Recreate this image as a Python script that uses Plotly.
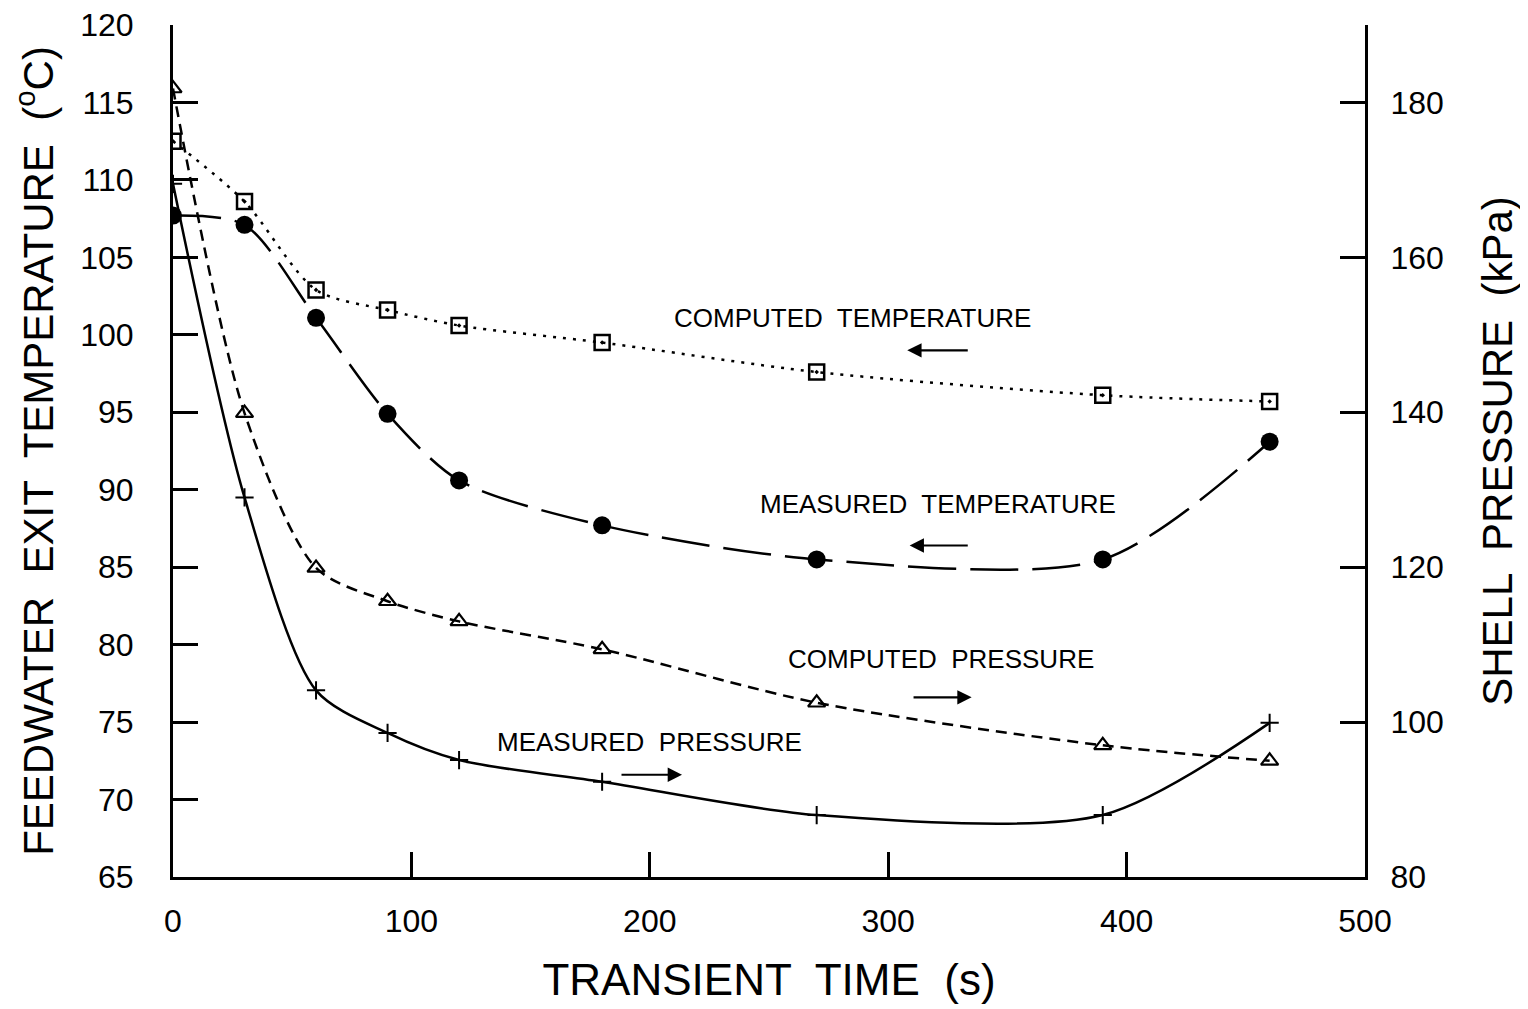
import plotly.graph_objects as go

# ---- data ----
time_s = [0, 30, 60, 90, 120, 180, 270, 390, 460]
computed_temp = [112.5, 108.6, 102.9, 101.6, 100.6, 99.5, 97.6, 96.1, 95.7]
measured_temp = [107.7, 107.1, 101.1, 94.9, 90.6, 87.7, 85.5, 85.5, 93.1]
computed_press = [181.8, 139.9, 119.9, 115.6, 113.0, 109.4, 102.5, 97.0, 95.0]
measured_press = [169.5, 129.0, 104.1, 98.6, 95.1, 92.3, 88.0, 88.0, 99.9]

x_ticks = [0, 100, 200, 300, 400, 500]
t_ticks = [65, 70, 75, 80, 85, 90, 95, 100, 105, 110, 115, 120]
p_ticks = [80, 100, 120, 140, 160, 180]

FONT = "Liberation Sans"
BLACK = "black"

fig = go.Figure()

fig.add_trace(go.Scatter(
    x=time_s, y=computed_temp, mode="lines+markers",
    line=dict(color=BLACK, width=2.5, dash="3px,7px", shape="spline", smoothing=0.8),
    marker=dict(symbol="square-open-dot", size=15, color=BLACK, line=dict(width=2.5, color=BLACK)),
    name="Computed temperature"))

fig.add_trace(go.Scatter(
    x=time_s, y=measured_temp, mode="lines+markers",
    line=dict(color=BLACK, width=2.5, dash="48px,14px", shape="spline", smoothing=0.8),
    marker=dict(symbol="circle", size=18, color=BLACK),
    name="Measured temperature"))

fig.add_trace(go.Scatter(
    x=time_s, y=computed_press, mode="lines+markers", yaxis="y2",
    line=dict(color=BLACK, width=2.5, dash="11px,7px", shape="spline", smoothing=0.8),
    marker=dict(symbol="triangle-up-open", size=15, color=BLACK, line=dict(width=2.2, color=BLACK)),
    name="Computed pressure"))

fig.add_trace(go.Scatter(
    x=time_s, y=measured_press, mode="lines+markers", yaxis="y2",
    line=dict(color=BLACK, width=2.5, shape="spline", smoothing=0.8),
    marker=dict(symbol="cross-thin-open", size=13, color=BLACK, line=dict(width=2, color=BLACK)),
    name="Measured pressure"))

# ---- text labels and arrows ----
labels = [
    ("COMPUTED  TEMPERATURE", 285, 101.1, 334, 308, 99.0),
    ("MEASURED  TEMPERATURE", 321, 89.1, 334, 309, 86.4),
    ("COMPUTED  PRESSURE", 322, 79.1, 310, 335, 76.6),
    ("MEASURED  PRESSURE", 200, 73.7, 187.5, 213.5, 71.6),
]
for txt, tx, ty, x0, x1, ya in labels:
    fig.add_annotation(x=tx, y=ty, xref="x", yref="y", text=txt, showarrow=False,
                       font=dict(family=FONT, size=26, color=BLACK))
    fig.add_annotation(x=x1, y=ya, ax=x0, ay=ya, xref="x", yref="y", axref="x", ayref="y",
                       text="", showarrow=True, arrowhead=2, arrowsize=1.3, arrowwidth=2.2,
                       arrowcolor=BLACK)

axis_common = dict(showline=True, linecolor=BLACK, linewidth=3, ticks="inside", ticklen=25,
                   tickwidth=2.5, tickcolor=BLACK, showgrid=False, zeroline=False,
                   automargin=False, ticklabeloverflow="allow",
                   tickfont=dict(family=FONT, size=32, color=BLACK))

fig.update_layout(
    width=1520, height=1001,
    margin=dict(l=165, r=163, t=17, b=132),
    paper_bgcolor="white", plot_bgcolor="white",
    showlegend=False,
    xaxis=dict(range=[0, 500], tickvals=x_ticks, ticklabelstandoff=14,
               title=dict(text="TRANSIENT  TIME  (s)", font=dict(family=FONT, size=44, color=BLACK), standoff=26),
               **axis_common),
    yaxis=dict(range=[65, 120], tickvals=t_ticks, ticklabelstandoff=30,
               title=dict(text="FEEDWATER  EXIT  TEMPERATURE  (<sup>o</sup>C)",
                          font=dict(family=FONT, size=42, color=BLACK), standoff=20),
               **axis_common),
    yaxis2=dict(range=[80, 190], tickvals=p_ticks, overlaying="y", side="right", ticklabelstandoff=16,
                title=dict(text="SHELL  PRESSURE  (kPa)", font=dict(family=FONT, size=42, color=BLACK), standoff=40),
                **axis_common),
)

fig.write_html("out.html")
